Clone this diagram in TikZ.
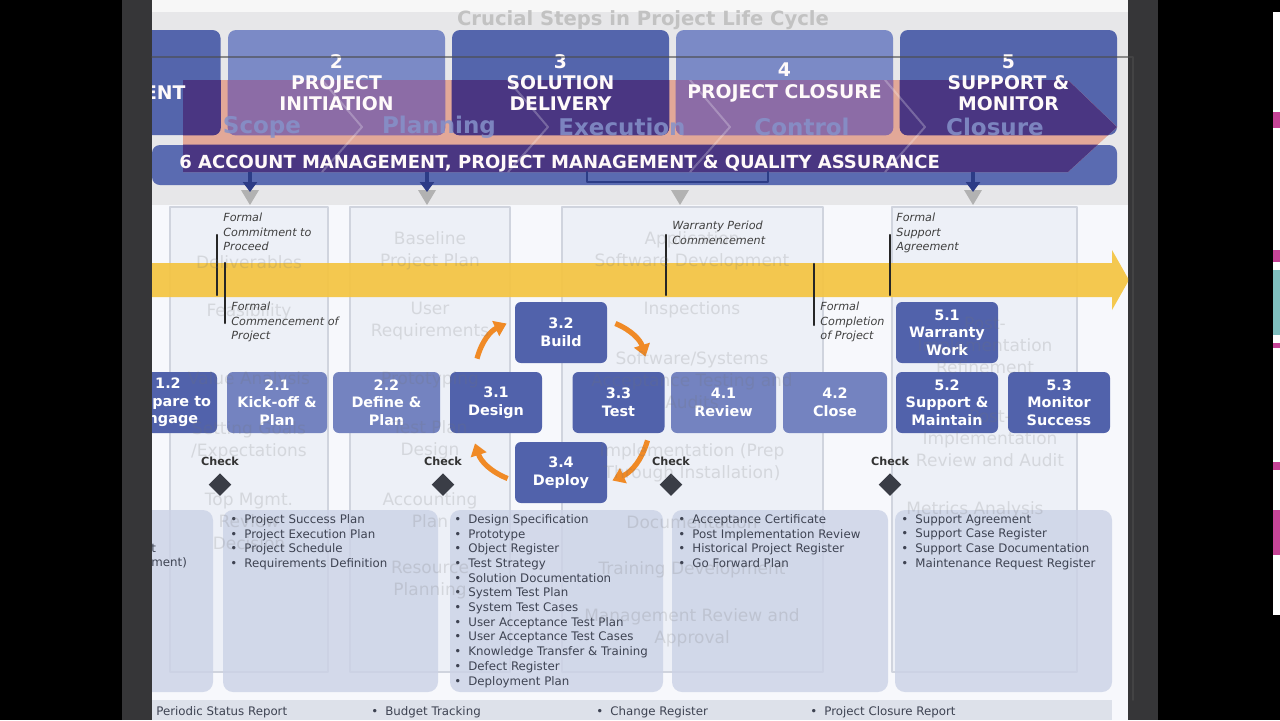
\documentclass[tikz,border=0pt]{standalone}
\usepackage{fontspec}
\setmainfont{DejaVu Sans}
\usetikzlibrary{positioning,shapes.geometric,arrows.meta,calc}

\definecolor{scrgray}{HTML}{363638}
\definecolor{topgray}{HTML}{E7E7E9}
\definecolor{bodybg}{HTML}{F7F8FC}
\definecolor{colfill}{HTML}{EDF0F7}
\definecolor{colline}{HTML}{D0D4DE}
\definecolor{phdark}{HTML}{5465AC}
\definecolor{phlight}{HTML}{7B8AC6}
\definecolor{salmon}{HTML}{E2A898}
\definecolor{bnddark}{HTML}{4A3682}
\definecolor{bndlight}{HTML}{8C6CA6}
\definecolor{acctblue}{HTML}{5A6BB1}
\definecolor{navy}{HTML}{2C3C86}
\definecolor{chevtxt}{HTML}{8592CA}
\definecolor{gold}{HTML}{F4C441}
\definecolor{actdk}{HTML}{5162AB}
\definecolor{actlt}{HTML}{7483C0}
\definecolor{cycorange}{HTML}{F08A26}
\definecolor{diam}{HTML}{3A3D46}
\definecolor{delfill}{HTML}{CBD2E6}
\definecolor{listtxt}{HTML}{3E4352}
\definecolor{strip}{HTML}{DDE1EA}
\definecolor{pinkbit}{HTML}{C8489A}

\newcommand{\bul}{\makebox[7pt][l]{\textbullet}}

\begin{document}
\begin{tikzpicture}[x=0.5pt,y=-0.5pt,line cap=round,line join=round,
  phase/.style={rounded corners=4pt,minimum width=108.5pt,minimum height=52.5pt,inner sep=0pt},
  phasetxt/.style={text=white!92!pink,align=center,font=\bfseries\fontsize{9.4}{10.6}\selectfont},
  act/.style={rounded corners=3pt,minimum height=30.5pt,inner sep=0pt,text=white,align=center,font=\bfseries\fontsize{7.2}{8.8}\selectfont},
  actdark/.style={act,fill=actdk},
  actlight/.style={act,fill=actlt},
  cyc/.style={draw=cycorange,line width=2.6pt,line cap=butt,-{Triangle[length=6pt,width=8pt]}},
  mstone/.style={line width=1.1pt,black!85},
  mstext/.style={anchor=north west,inner sep=0pt,align=left,text=black!75,font=\itshape\fontsize{5.6}{7.2}\selectfont},
  chk/.style={font=\bfseries\fontsize{5.6}{6}\selectfont,text=black!80,inner sep=0pt},
  gate/.style={diamond,fill=diam,minimum width=11.5pt,minimum height=11.5pt,inner sep=0pt},
  dlist/.style={anchor=north west,inner sep=0pt,align=left,text=listtxt,font=\fontsize{5.9}{7.35}\selectfont},
  ghost/.style={text=black!55,text opacity=0.2,align=center,font=\fontsize{8.5}{11}\selectfont},
  chev/.style={text=chevtxt,text opacity=.85,font=\bfseries\fontsize{11.5}{12}\selectfont,inner sep=0pt}]

\useasboundingbox (0,0) rectangle (1280,720);
% screen round the slide
\fill[black] (0,0) rectangle (1280,720);
\fill[scrgray] (122,0) rectangle (152,720);
\fill[scrgray] (1128,0) rectangle (1158,720);
\fill[white] (1273,12) rectangle (1280,615);
\fill[pinkbit] (1273,112) rectangle (1280,128);
\fill[pinkbit] (1273,250) rectangle (1280,262);
\fill[teal!50] (1273,270) rectangle (1280,335);
\fill[pinkbit] (1273,343) rectangle (1280,348);
\fill[pinkbit] (1273,462) rectangle (1280,470);
\fill[pinkbit] (1273,510) rectangle (1280,555);

\begin{scope}
\clip (152,0) rectangle (1128,720);
\fill[white!97!black] (152,0) rectangle (1128,12);
\fill[topgray] (152,12) rectangle (1128,205);
\fill[bodybg] (152,205) rectangle (1128,720);
\node[text=black!24,font=\bfseries\fontsize{9.8}{10}\selectfont] (title) at (643,20) {Crucial Steps in Project Life Cycle};

% phases
\node[phase,fill=phdark] (p1) at (112,82.5) {};
\node[phase,fill=phlight] (p2) at (336.5,82.5) {};
\node[phase,fill=phdark] (p3) at (560.5,82.5) {};
\node[phase,fill=phlight] (p4) at (784.5,82.5) {};
\node[phase,fill=phdark] (p5) at (1008.5,82.5) {};
\node[rounded corners=4pt,fill=acctblue,minimum width=482.5pt,minimum height=20pt,inner sep=0pt] (acct) at (634.5,165) {};

% chevron band over the phases
\begin{scope}
\clip (183,80) -- (1068,80) -- (1117,127) -- (1068,172) -- (183,172) -- cycle;
\fill[salmon] (150,70) rectangle (1130,180);
\fill[bnddark,rounded corners=4pt] (p1.north west) rectangle (p1.south east);
\fill[bndlight,rounded corners=4pt] (p2.north west) rectangle (p2.south east);
\fill[bnddark,rounded corners=4pt] (p3.north west) rectangle (p3.south east);
\fill[bndlight,rounded corners=4pt] (p4.north west) rectangle (p4.south east);
\fill[bnddark,rounded corners=4pt] (p5.north west) rectangle (p5.south east);
\fill[bnddark,rounded corners=4pt] (acct.north west) rectangle (acct.south east);
\foreach \t in {362,548,730,925}
  \draw[white,opacity=.25,line width=1pt] (\t-40,80) -- (\t,127) -- (\t-40,172);
\end{scope}
\node[chev] (sc) at (262,127) {Scope};
\node[chev] (pl) at (439,127) {Planning};
\node[chev] (ex) at (622,127) {Execution};
\node[chev] (co) at (802,127) {Control};
\node[chev] (cl) at (995,127) {Closure};

\node[phasetxt] (p1t) at (p1) {1\\ENGAGEMENT};
\node[phasetxt] (p2t) at (p2) {2\\PROJECT\\INITIATION};
\node[phasetxt] (p3t) at (p3) {3\\SOLUTION\\DELIVERY};
\node[phasetxt] (p4t) at (p4) {4\\PROJECT CLOSURE};
\node[phasetxt] (p5t) at (p5) {5\\SUPPORT \&\\MONITOR};
\node[anchor=west,inner sep=0pt,text=white!90!pink,font=\bfseries\fontsize{9}{9}\selectfont] (acctt) at (179,164) {6 ACCOUNT MANAGEMENT, PROJECT MANAGEMENT \& QUALITY ASSURANCE};

% drops under the bar
\foreach \x in {250,427,680,973}
  \fill[black!30] (\x-9,190) -- (\x+9,190) -- (\x,205) -- cycle;
\foreach \x in {250,427,973}
  \draw[navy,line width=2pt,line cap=butt,-{Triangle[length=5pt,width=7pt]}] (\x,172) -- (\x,192);
\draw[navy,line width=1.2pt] (587,172) -- (587,182) -- (768,182) -- (768,172);

% columns
\foreach \a/\b in {170/328,350/510,562/823,892/1077}
  \filldraw[fill=colfill,draw=colline,line width=.6pt] (\a,207) rectangle (\b,672);

% timeline
\fill[gold,opacity=.92] (152,263) -- (1112,263) -- (1112,250) -- (1129,280) -- (1112,310) -- (1112,297) -- (152,297) -- cycle;

% milestones
\draw[mstone] (217,235) -- (217,295);
\node[mstext] (ms1) at (223,213) {Formal\\Commitment to\\Proceed};
\draw[mstone] (225,263) -- (225,323);
\node[mstext] (ms2) at (231,302) {Formal\\Commencement of\\Project};
\draw[mstone] (666,235) -- (666,295);
\node[mstext] (ms3) at (672,221) {Warranty Period\\Commencement};
\draw[mstone] (814,264) -- (814,325);
\node[mstext] (ms4) at (820,302) {Formal\\Completion\\of Project};
\draw[mstone] (890,235) -- (890,295);
\node[mstext] (ms5) at (896,213) {Formal\\Support\\Agreement};

% activities
\node[actdark,minimum width=49pt] (a12) at (168,402.5) {1.2\\Prepare to\\Engage};
\node[actlight,minimum width=50pt] (a21) at (277,402.5) {2.1\\Kick-off \&\\Plan};
\node[actlight,minimum width=53.5pt] (a22) at (386.5,402.5) {2.2\\Define \&\\Plan};
\node[actdark,minimum width=46pt] (a31) at (496,402.5) {3.1\\Design};
\node[actdark,minimum width=46pt] (a32) at (561,332.5) {3.2\\Build};
\node[actdark,minimum width=46pt] (a33) at (618.5,402.5) {3.3\\Test};
\node[actdark,minimum width=46pt] (a34) at (561,472.5) {3.4\\Deploy};
\node[actlight,minimum width=52.5pt] (a41) at (723.5,402.5) {4.1\\Review};
\node[actlight,minimum width=52pt] (a42) at (835,402.5) {4.2\\Close};
\node[actdark,minimum width=51pt] (a51) at (947,332.5) {5.1\\Warranty\\Work};
\node[actdark,minimum width=51pt] (a52) at (947,402.5) {5.2\\Support \&\\Maintain};
\node[actdark,minimum width=51pt] (a53) at (1059,402.5) {5.3\\Monitor\\Success};

% delivery cycle
\draw[cyc] ($(a31.north)+(-19,-13)$) to[bend left=25] ($(a32.west)+(-8,-9)$);
\draw[cyc] ($(a32.east)+(8,-9)$) to[bend left=25] ($(a33.north)+(27,-15)$);
\draw[cyc] ($(a33.south)+(29,7)$) to[bend left=25] ($(a34.east)+(5,8)$);
\draw[cyc] ($(a34.west)+(-7,6)$) to[bend left=25] ($(a31.south)+(-21,10)$);

% gates
\foreach \x/\n in {220/1,443/2,671/3,890/4}{
  \node[chk] (chk\n) at (\x,461) {Check};
  \node[gate,below=3.5pt of chk\n] (gate\n) {};
}

% deliverables
\foreach \a/\b in {120/213,223/438,450/663,672/888,895/1112}
  \fill[delfill,opacity=.8,rounded corners=5pt] (\a,510) rectangle (\b,692);
\node[dlist,anchor=west] (dl0a) at (151,548) {t};
\node[dlist,anchor=west] (dl0b) at (151,563) {ment)};
\node[dlist] (dl1) at (230,514) {\bul Project Success Plan\\\bul Project Execution Plan\\\bul Project Schedule\\\bul Requirements Definition};
\node[dlist] (dl2) at (454,514) {\bul Design Specification\\\bul Prototype\\\bul Object Register\\\bul Test Strategy\\\bul Solution Documentation\\\bul System Test Plan\\\bul System Test Cases\\\bul User Acceptance Test Plan\\\bul User Acceptance Test Cases\\\bul Knowledge Transfer \& Training\\\bul Defect Register\\\bul Deployment Plan};
\node[dlist] (dl3) at (678,514) {\bul Acceptance Certificate\\\bul Post Implementation Review\\\bul Historical Project Register\\\bul Go Forward Plan};
\node[dlist] (dl4) at (901,514) {\bul Support Agreement\\\bul Support Case Register\\\bul Support Case Documentation\\\bul Maintenance Request Register};

% reports strip
\fill[strip] (152,700) rectangle (1112,720);
\node[dlist,anchor=west] (rep1) at (156,712) {Periodic Status Report};
\node[dlist,anchor=west] (rep2) at (371,712) {\bul Budget Tracking};
\node[dlist,anchor=west] (rep3) at (596,712) {\bul Change Register};
\node[dlist,anchor=west] (rep4) at (810,712) {\bul Project Closure Report};

% faded slide behind
\node[ghost] (g11) at (249,262) {Deliverables};
\node[ghost] (g12) at (249,312) {Feasibility};
\node[ghost] (g13) at (249,380) {Value Analysis};
\node[ghost] (g14) at (249,441) {Setting Goals\\/Expectations};
\node[ghost] (g15) at (249,521) {Top Mgmt.\\Review\\Decision};
\node[ghost] (g21) at (430,251) {Baseline\\Project Plan};
\node[ghost] (g22) at (430,321) {User\\Requirements};
\node[ghost] (g23) at (430,380) {Prototyping};
\node[ghost] (g24) at (430,440) {Test Plan\\Design};
\node[ghost] (g25) at (430,510) {Accounting\\Plan};
\node[ghost] (g26) at (430,580) {Resource\\Planning};
\node[ghost] (g31) at (692,251) {Application\\Software Development};
\node[ghost] (g32) at (692,310) {Inspections};
\node[ghost] (g33) at (692,380) {Software/Systems\\Acceptance Testing and\\Audits};
\node[ghost] (g34) at (692,463) {Implementation (Prep\\Through Installation)};
\node[ghost] (g35) at (692,522) {Documentation};
\node[ghost] (g36) at (692,570) {Training Development};
\node[ghost] (g37) at (692,628) {Management Review and\\Approval};
\node[ghost] (g41) at (985,345) {Post-\\Implementation\\Refinement};
\node[ghost] (g42) at (990,438) {Post-\\Implementation\\Review and Audit};
\node[ghost] (g43) at (975,510) {Metrics Analysis};
\end{scope}

\draw[black!70,opacity=.6,line width=.8pt] (152,57) -- (1133,57) -- (1133,700);
\end{tikzpicture}
\end{document}
